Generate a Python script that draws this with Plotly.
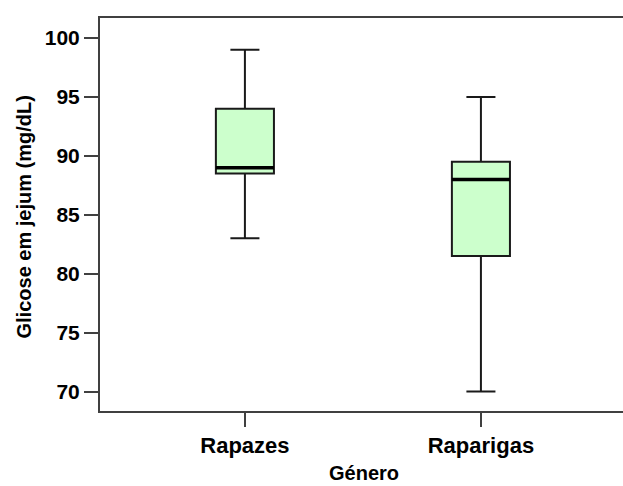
import plotly.graph_objects as go

# Fasting glucose (mg/dL) five-number summaries by gender
categories = ["Rapazes", "Raparigas"]
lower_whisker = [83, 70]
q1 = [88.5, 81.5]
median = [89, 88]
q3 = [94, 89.5]
upper_whisker = [99, 95]

y_ticks = [70, 75, 80, 85, 90, 95, 100]

BOX_WIDTH = 0.246
FILL = "#CCFFCC"
FONT = "Liberation Sans, Arial, sans-serif"

positions = list(range(len(categories)))

fig = go.Figure()

fig.add_trace(go.Box(
    x=positions,
    q1=q1,
    median=median,
    q3=q3,
    lowerfence=lower_whisker,
    upperfence=upper_whisker,
    width=BOX_WIDTH,
    whiskerwidth=0.5,
    fillcolor=FILL,
    line=dict(color="#1a1a1a", width=2),
    boxpoints=False,
    hoverinfo="skip",
    showlegend=False,
))

# heavier median bars drawn over each box
for pos, med in zip(positions, median):
    fig.add_trace(go.Scatter(
        x=[pos - BOX_WIDTH / 2, pos + BOX_WIDTH / 2],
        y=[med, med],
        mode="lines",
        line=dict(color="#000000", width=3.5),
        hoverinfo="skip",
        showlegend=False,
    ))

fig.update_layout(
    width=623,
    height=486,
    margin=dict(l=100, r=0, t=18, b=75),
    paper_bgcolor="white",
    plot_bgcolor="white",
    font=dict(family=FONT, color="#000000"),
    annotations=[
        dict(
            text="Glicose em jejum (mg/dL)",
            xref="paper", yref="paper", x=0, y=0.5,
            xanchor="center", yanchor="middle",
            xshift=-77, yshift=-3, textangle=-90, showarrow=False,
            font=dict(family=FONT, size=20, weight="bold", color="#000000"),
        ),
        dict(
            text="Género",
            xref="paper", yref="paper", x=0.5, y=0,
            xanchor="center", yanchor="middle",
            xshift=2, yshift=-62, showarrow=False,
            font=dict(family=FONT, size=20, weight="bold", color="#000000"),
        ),
    ],
)

fig.update_xaxes(
    range=[-0.614, 1.602],
    tickmode="array",
    tickvals=positions,
    ticktext=categories,
    ticks="outside",
    ticklen=14,
    tickwidth=1.5,
    tickcolor="#404040",
    tickfont=dict(family=FONT, size=22, weight="bold", color="#000000"),
    showline=True,
    linecolor="#404040",
    linewidth=2,
    mirror=True,
    showgrid=False,
    zeroline=False,
)

fig.update_yaxes(
    range=[68.35, 101.7],
    tickmode="array",
    tickvals=y_ticks,
    ticks="outside",
    ticklen=14,
    tickwidth=1.5,
    tickcolor="#404040",
    tickfont=dict(family=FONT, size=21, weight="bold", color="#000000"),
    showline=True,
    linecolor="#404040",
    linewidth=2,
    showgrid=False,
    zeroline=False,
)

fig.write_html("out.html")
